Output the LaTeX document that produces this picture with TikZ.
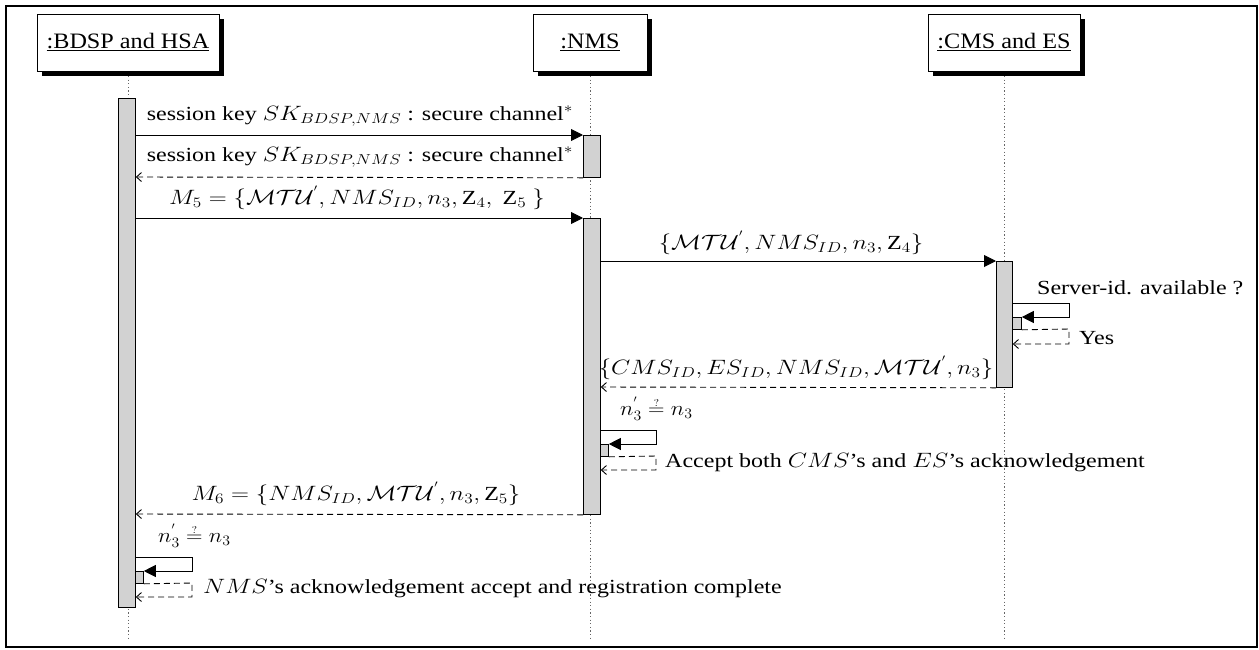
\documentclass[tikz,border=0pt]{standalone}
\usepackage{fontspec}
\setmainfont{Liberation Serif}
\usetikzlibrary{arrows.meta}
\newcommand\stx[1]{\scalebox{1.2}[1]{#1}}
\newcommand\sth[1]{\scalebox{1.1}[1]{#1}}
\newcommand\MTU{\mathcal{M}\mathcal{T}\mathcal{U}^{'}}
\newcommand\qeq{n_3^{'}\stackrel{\scriptscriptstyle ?}{=}n_3}
\tikzset{
  head/.style={draw, fill=white, line width=0.9pt, minimum height=57pt, inner sep=0pt,
    font=\fontsize{22}{26}\selectfont},
  shade/.style={fill=black},
  msg/.style={font=\fontsize{20}{24}\selectfont, inner sep=0pt},
  bar/.style={draw, fill=gray!35, line width=0.8pt, inner sep=0pt},
  call/.style={-{Triangle[length=12pt,width=12pt]}, line width=0.9pt},
  ret/.style={draw=black, dash pattern=on 6pt off 4pt, -{Straight Barb[length=5pt,width=9pt]}, line width=0.9pt},
  life/.style={dash pattern=on 1.2pt off 2.4pt, gray!80!black, line width=0.6pt}
}
\begin{document}
\begin{tikzpicture}[x=1pt,y=-1pt]
\useasboundingbox (0,0) rectangle (1259,649);
\draw[line width=1.3pt] (6,6) rectangle (1257,647);

% lifeline heads
\fill[shade] (42,19) rectangle (224,76);
\fill[shade] (538,19) rectangle (652,76);
\fill[shade] (933,19) rectangle (1085,76);
\node[head, minimum width=182pt] (h1) at (128,42.5) {\sth{\underline{:BDSP and HSA}}};
\node[head, minimum width=114pt] (h2) at (590,42.5) {\sth{\underline{:NMS}}};
\node[head, minimum width=152pt] (h3) at (1004,42.5) {\sth{\underline{:CMS and ES}}};

% lifelines
\coordinate (e1) at (128,641);
\coordinate (e2) at (590,641);
\coordinate (e3) at (1004,641);
\draw[life] (h1.south |- 0,76) -- (e1);
\draw[life] (h2.south |- 0,76) -- (e2);
\draw[life] (h3.south |- 0,76) -- (e3);

% activation bars
\node[bar, minimum width=17pt, minimum height=509pt, anchor=north west] (b1) at (118,98) {};
\node[bar, minimum width=17pt, minimum height=42pt, anchor=north west] (b2a) at (583,135) {};
\node[bar, minimum width=17pt, minimum height=296pt, anchor=north west] (b2b) at (583,218) {};
\node[bar, minimum width=16pt, minimum height=126pt, anchor=north west] (b3) at (996,261) {};
\node[bar, minimum width=9pt, minimum height=12pt, anchor=north west] (s3) at (1012,317) {};
\node[bar, minimum width=8pt, minimum height=12pt, anchor=north west] (s2) at (600,444) {};
\node[bar, minimum width=8pt, minimum height=12pt, anchor=north west] (s1) at (135,571) {};

% y levels
\coordinate (m1) at (0,135);
\coordinate (m2) at (0,177);
\coordinate (m3) at (0,218);
\coordinate (m4) at (0,261);
\coordinate (m5) at (0,387);
\coordinate (m6) at (0,514);

% messages
\draw[call] (b1.east |- m1) -- (b2a.north west);
\draw[ret] (b2a.south west) -- (b1.east |- m2);
\draw[call] (b1.east |- m3) -- (b2b.north west);
\draw[call] (b2b.east |- m4) -- (b3.north west);
\draw[ret] (b3.south west) -- (b2b.east |- m5);
\draw[ret] (b2b.south west) -- (b1.east |- m6);

% self calls
\draw[call] (b3.east |- 0,303) -- (1069,303) -- (1069,317) -- (s3.north east);
\draw[ret] (s3.south east) -- (1069,329) -- (1069,344) -- (b3.east |- 0,344);
\draw[call] (b2b.east |- 0,430) -- (656,430) -- (656,444) -- (s2.north east);
\draw[ret] (s2.south east) -- (656,456) -- (656,470) -- (b2b.east |- 0,470);
\draw[call] (b1.east |- 0,557) -- (192,557) -- (192,571) -- (s1.north east);
\draw[ret] (s1.south east) -- (192,583) -- (192,597) -- (b1.east |- 0,597);

% labels
\node[msg] (t1) at (360,116) {\stx{session key $SK_{BDSP,NMS}$ : secure channel$^{*}$}};
\node[msg] (t2) at (360,157) {\stx{session key $SK_{BDSP,NMS}$ : secure channel$^{*}$}};
\node[msg] (t3) at (357,198) {\stx{$M_5=\{\MTU, NMS_{ID}, n_3, \mathrm{Z}_4,\ \mathrm{Z}_5\ \}$}};
\node[msg] (t4) at (791,243) {\stx{$\{\MTU, NMS_{ID}, n_3, \mathrm{Z}_4\}$}};
\node[msg, anchor=west] (t5) at (1037,288) {\stx{Server-id. available ?}};
\node[msg, anchor=west] (t6) at (1079,338) {\stx{Yes}};
\node[msg] (t7) at (796,368) {\stx{$\{CMS_{ID}, ES_{ID}, NMS_{ID}, \MTU, n_3\}$}};
\node[msg, anchor=west] (t8) at (620,409) {\sth{$\qeq$}};
\node[msg, anchor=west] (t9) at (665,463) {\stx{Accept both $CMS$'s and $ES$'s acknowledgement}};
\node[msg] (t10) at (356,494) {\stx{$M_6=\{NMS_{ID}, \MTU, n_3, \mathrm{Z}_5\}$}};
\node[msg, anchor=west] (t11) at (158,536) {\sth{$\qeq$}};
\node[msg, anchor=west] (t12) at (203,589) {\stx{$NMS$'s acknowledgement accept and registration complete}};
\end{tikzpicture}
\end{document}
